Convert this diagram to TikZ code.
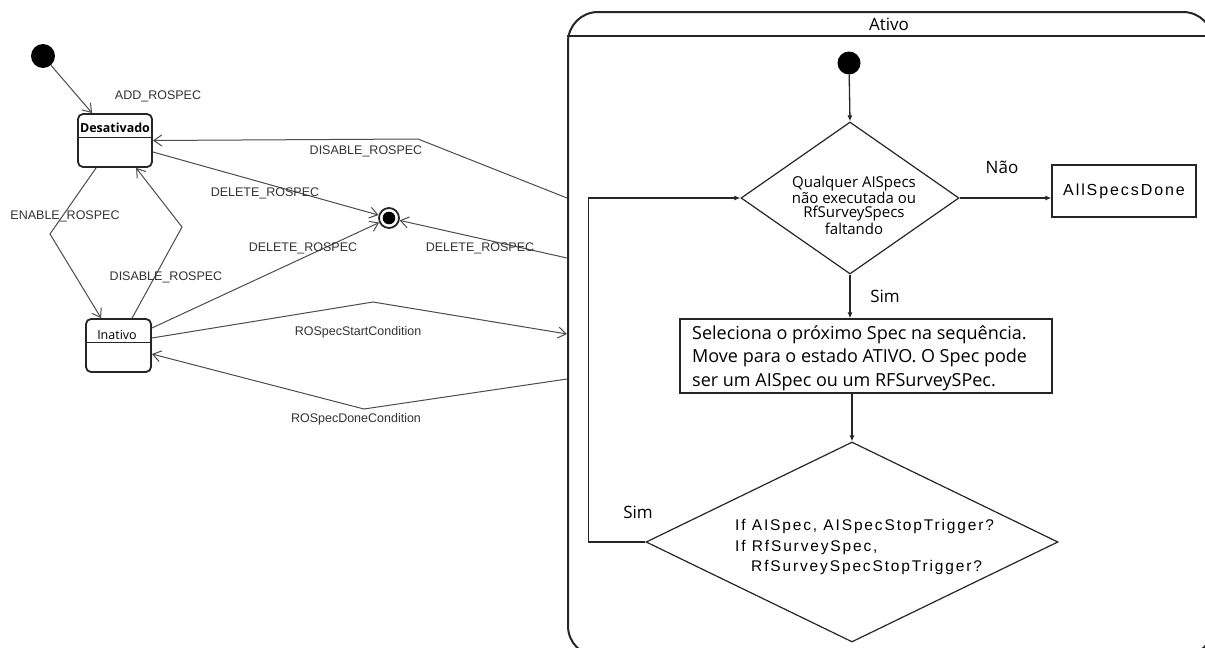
\documentclass[tikz,border=0pt]{standalone}
\usepackage{fontspec}
\setmainfont{Liberation Sans}
\newfontfamily\hum{Open Sans}
\newfontfamily\spaced{Liberation Sans}[LetterSpace=12]
\usetikzlibrary{arrows.meta,shapes.geometric,calc}

\begin{document}
\begin{tikzpicture}[x=1pt,y=-1pt,
  smline/.style={draw=black!70, line width=1pt},
  smarrow/.style={smline, -{Straight Barb[length=8pt,width=11pt,line width=1pt]}},
  statebox/.style={draw=black!85, line width=1.8pt, rounded corners=5pt,
    minimum height=53pt, inner sep=0pt},
  statetitle/.style={font=\hum\fontsize{12.5}{14}\selectfont, inner sep=0pt},
  divider/.style={draw=black!85, line width=1pt},
  lbl/.style={font=\fontsize{12.5}{14}\selectfont, text=black!80, inner sep=0pt},
  initdot/.style={circle, fill=black, inner sep=0pt, minimum size=23pt},
  finalstate/.style={circle, draw=black!85, line width=1.8pt, inner sep=0pt,
    minimum size=20pt, path picture={\fill[black] (path picture bounding box.center) circle (6.3pt);}},
  fcline/.style={draw=black!85, line width=1.3pt},
  fcarrow/.style={fcline, -{Latex[length=6pt,width=5pt]}},
  dia/.style={diamond, draw=black!85, line width=1.2pt, inner sep=0pt},
  fcbox/.style={rectangle, draw=black!85, line width=1.3pt, inner sep=0pt},
  humlbl/.style={font=\hum\fontsize{17}{20}\selectfont, inner sep=0pt},
]
\useasboundingbox (0,0) rectangle (1205,648);
\fill[white] (0,0) rectangle (1205,648);

% ---------- composite state Ativo (runs past the right and bottom edges) ----------
\node[draw=black!85, line width=2pt, rounded corners=30pt, minimum width=645pt,
      minimum height=644pt, inner sep=0pt] (ativo) at (890.5,334) {};
\draw[draw=black!85, line width=1.8pt] ($(ativo.north west)+(0,25)$) -- ($(ativo.north east)+(0,25)$);
\node[humlbl] (ativotxt) at (889,24) {Ativo};

\coordinate (aDis)   at ($(ativo.north west)+(0,187)$);
\coordinate (aDel)   at ($(ativo.north west)+(0,247)$);
\coordinate (aStart) at ($(ativo.north west)+(0,323)$);
\coordinate (aDone)  at ($(ativo.north west)+(0,368)$);

% ---------- ROSpec states ----------
\node[initdot, minimum size=24pt] (init) at (43,56) {};

\node[statebox, minimum width=74pt] (des) at (115,140.5) {};
\node[statetitle, font=\hum\bfseries\fontsize{12.5}{14}\selectfont] (destxt) at (115,128) {Desativado};
\draw[divider] ($(des.north west)+(0,24)$) -- ($(des.north east)+(0,24)$);

\node[statebox, minimum width=65pt] (ina) at (118.5,345.5) {};
\node[statetitle] (inatxt) at (117,335) {Inativo};
\draw[divider] ($(ina.north west)+(0,24)$) -- ($(ina.north east)+(0,24)$);

\node[finalstate] (fin) at (389,218) {};

% ---------- transitions ----------
\draw[smarrow] (init) -- ($(des.north west)+(15,0)$);
\draw[smarrow] (aDis) -- (418,139) -- (des.east);
\draw[smarrow] ($(des.east)+(0,11.5)$) -- (fin);
\draw[smarrow] ($(ina.east)+(0,-17.5)$) -- (fin);
\draw[smarrow] (aDel) -- (fin);
\draw[smarrow] ($(des.south west)+(19,0)$) -- (50,234) -- ($(ina.north west)+(16,0)$);
\draw[smarrow] ($(ina.north west)+(47,0)$) -- (182,227) -- ($(des.south west)+(59,0)$);
\draw[smarrow] ($(ina.east)+(0,-7.5)$) -- (373,302) -- (aStart);
\draw[smarrow] (aDone) -- (364,409) -- ($(ina.east)+(0,8.5)$);

\node[lbl] (l1) at (158,96)  {ADD\_ROSPEC};
\node[lbl] (l2) at (366,151) {DISABLE\_ROSPEC};
\node[lbl] (l3) at (265,193) {DELETE\_ROSPEC};
\node[lbl] (l4) at (303,248) {DELETE\_ROSPEC};
\node[lbl] (l5) at (480,248) {DELETE\_ROSPEC};
\node[lbl] (l6) at (65,216)  {ENABLE\_ROSPEC};
\node[lbl] (l7) at (166,277) {DISABLE\_ROSPEC};
\node[lbl] (l8) at (358,332) {ROSpecStartCondition};
\node[lbl] (l9) at (356,419) {ROSpecDoneCondition};

% ---------- flow inside Ativo ----------
\node[initdot] (idot) at (849,63) {};
\node[dia, minimum width=218pt, minimum height=152pt] (d1) at (850,198) {};
\node[font=\hum\fontsize{15}{14.7}\selectfont, align=center, inner sep=0pt] (d1txt) at (854,205)
  {Qualquer AISpecs\\não executada ou\\RfSurveySpecs\\faltando};
\node[fcbox, minimum width=144pt, minimum height=52pt,
      font=\spaced\fontsize{16}{18}\selectfont] (done) at (1124,191) {AllSpecsDone};
\node[fcbox, minimum width=372pt, minimum height=74pt] (sel) at (866,356) {};
\node[font=\hum\fontsize{18}{23.5}\selectfont, align=left, anchor=west, inner sep=0pt] (seltxt) at (692,358)
  {Seleciona o próximo Spec na sequência.\\Move para o estado ATIVO. O Spec pode\\ser um AISpec ou um RFSurveySPec.};
\node[dia, minimum width=412pt, minimum height=200pt] (d2) at (852,542) {};
\node[font=\spaced\fontsize{15.5}{20.5}\selectfont, align=left, anchor=west, inner sep=0pt] (d2txt) at (735,547)
  {If AISpec, AISpecStopTrigger?\\If RfSurveySpec,\\\hspace*{16pt}RfSurveySpecStopTrigger?};

\draw[fcarrow] (idot) -- (d1.north);
\draw[fcarrow] (d1.east) -- (d1.east -| done.west);
\draw[fcarrow] (d1.south) -- (d1.south |- sel.north);
\draw[fcarrow] (d2.north |- sel.south) -- (d2.north);
\draw[fcarrow] (d2.west) -- ++(-57,0) |- (d1.west);

\node[humlbl] (nao) at (1002,167) {Não};
\node[humlbl] (sim1) at (885,296) {Sim};
\node[humlbl] (sim2) at (638,512) {Sim};
\end{tikzpicture}
\end{document}
